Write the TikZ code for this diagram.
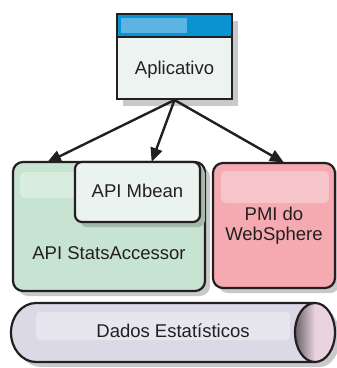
\documentclass[tikz,border=0pt]{standalone}
\usepackage{fontspec}
\setmainfont{Liberation Sans}
\usetikzlibrary{arrows.meta}
\definecolor{txt}{HTML}{231F20}
\definecolor{shad}{HTML}{C9C9CB}
\definecolor{appfill}{HTML}{EDF3F1}
\definecolor{titlebar}{HTML}{0A93D3}
\definecolor{titlehl}{HTML}{5CB4E2}
\definecolor{greenfill}{HTML}{C7E3D1}
\definecolor{greenhl}{HTML}{D9ECE0}
\definecolor{mbeanfill}{HTML}{EAF3F0}
\definecolor{pinkfill}{HTML}{F5AAB1}
\definecolor{pinkhl}{HTML}{F6C5CA}
\definecolor{cylfill}{HTML}{DCD9E7}
\definecolor{cylhl}{HTML}{E7E6EF}
\definecolor{capfill}{HTML}{E9D3DF}
\tikzset{
  box/.style={draw=txt, line width=2.2pt, inner sep=0pt},
  lbl/.style={text=txt, font=\fontsize{18.5}{21}\selectfont, inner sep=0pt, align=center},
  conn/.style={draw=txt, line width=2.4pt, -{Triangle[length=14pt,width=12pt]}, shorten >=-1pt},
}
\begin{document}
\begin{tikzpicture}[x=1pt,y=-1pt]
\useasboundingbox (0,0) rectangle (337,368);
% shadows
\fill[shad] (123,21) rectangle (238,106);
\fill[shad, rounded corners=10pt] (18,167) rectangle (210,296);
\fill[shad, rounded corners=10pt] (218,168) rectangle (340,293);
\fill[shad] (41,308) -- (320,308) .. controls (331,308) and (340,321) .. (340,337.5) .. controls (340,354) and (331,367) .. (320,367) -- (41,367) .. controls (27,367) and (16,354) .. (16,337.5) .. controls (16,321) and (27,308) .. (41,308) -- cycle;
% green box
\node[box, fill=greenfill, rounded corners=10pt, minimum width=192pt, minimum height=129pt] (green) at (109,226.5) {};
\fill[greenhl, rounded corners=5pt] (20,172) rectangle (80,198);
\fill[black!18!greenfill, rounded corners=7pt] (80,167) rectangle (205,227);
\node[box, fill=mbeanfill, rounded corners=7pt, minimum width=125pt, minimum height=60pt] (mbean) at (137.5,192) {};
\node[lbl] (mbeantxt) at (137.5,191) {API Mbean};
\node[lbl] (greentxt) at (109,253) {API StatsAccessor};
% pink box
\node[box, fill=pinkfill, rounded corners=10pt, minimum width=122pt, minimum height=125pt] (pmi) at (274,225.5) {};
\fill[pinkhl, rounded corners=5pt] (221,171) rectangle (329,203);
\node[lbl] (pmitxt) at (274,226) {PMI do\\[-1pt]WebSphere};
% cylinder
\path[fill=cylfill, draw=txt, line width=2.2pt] (315,303) -- (36,303) .. controls (22.2,303) and (11,316.2) .. (11,332.5) .. controls (11,348.8) and (22.2,362) .. (36,362) -- (315,362);
\fill[cylhl, rounded corners=4pt] (36,312) rectangle (290,340);
\shade[left color=black!55!capfill, right color=capfill, middle color=capfill] (315,332.5) ellipse[x radius=20, y radius=29.5];
\draw[txt, line width=2.2pt] (315,332.5) ellipse[x radius=20, y radius=29.5];
\node[lbl] (cyltxt) at (173,331) {Dados Estatísticos};
% application window
\node[box, fill=appfill, minimum width=115pt, minimum height=85pt] (app) at (174.5,56.5) {};
\fill[titlebar] (117,14) rectangle (232,37);
\fill[titlehl] (121,18) rectangle (187,33);
\draw[txt, line width=2.2pt] (117,14) rectangle (232,99);
\draw[txt, line width=2.2pt] (117,37) -- (232,37);
\node[lbl] (apptxt) at (174.5,70) {Aplicativo};
% connectors
\coordinate (src) at (174.5,100);
\coordinate (t1) at (48,162);
\coordinate (t2) at (152,161);
\coordinate (t3) at (283,162);
\draw[conn] (src) -- (t1);
\draw[conn] (src) -- (t2);
\draw[conn] (src) -- (t3);
\end{tikzpicture}
\end{document}
